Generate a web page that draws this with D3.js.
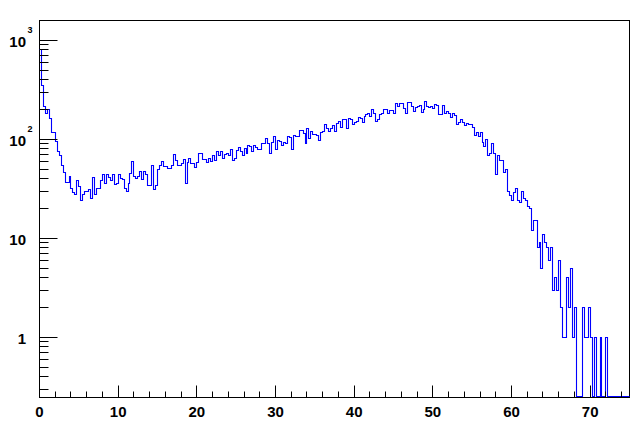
<!DOCTYPE html>
<html><head><meta charset="utf-8">
<script src="https://cdn.jsdelivr.net/npm/d3@7"></script>
<style>body{margin:0;background:#fff}svg{display:block}</style>
</head><body><svg id="c" width="644" height="424"></svg>
<script>
// Histogram range and bin contents (300 bins of width 0.25)
const xMin = 0, xMax = 75;
const counts = [
811,350,213,183,198,163,117,117,95,75,
68,55,46,37,37,42,32,29,28,38,
33,24,28,30,30,31,25,41,28,32,
32,38,44,36,44,41,38,44,35,36,
44,40,39,32,30,36,45,59,42,40,
42,47,39,47,44,34,34,55,31,34,
50,55,60,53,53,51,51,54,70,61,
54,54,57,63,36,58,64,57,57,52,
58,72,72,63,62,58,64,59,69,61,
75,69,75,64,71,72,69,78,61,64,
77,83,76,68,80,72,87,84,75,87,
83,78,78,90,90,102,90,72,92,106,
78,98,94,86,93,90,106,104,79,108,
106,106,123,123,115,90,128,102,120,113,
113,110,98,117,119,142,129,119,129,139,
120,145,151,132,159,159,129,161,157,142,
149,152,166,161,149,169,178,181,169,198,
181,153,157,176,183,200,200,183,194,194,
183,231,215,231,231,205,183,235,235,215,
190,210,214,222,186,200,240,214,211,214,
205,227,222,176,176,222,181,190,181,166,
181,172,140,148,157,148,138,143,141,141,
132,110,117,106,118,92,85,99,68,72,
90,72,44,68,61,61,46,50,30,27,
24,29,32,24,23,30,25,24,21,20,
12,15,15,8,9,5,11,9,8,6,
8,3,4,3,6,2,1,1,4,2,
5,1,2,0,0,0,2,1,1,2,
1,0,1,0,0,1,0,0,1,0,
0,0,0,0,0,0,0,0,0,0
];
const xTickMajor = [0,10,20,30,40,50,60,70];
const xTickMinorStep = 2;
const yTickMajor = [1,10,100,1000];
const yTickBase = ["1","10","10","10"];
const yTickExp = ["","","2","3"];
const yMin = 0.2466, yMax = 1585;

const svg = d3.select("#c");
const L = 39.5, R = 629.5, T = 20.5, B = 397.5;
const x = d3.scaleLinear().domain([xMin, xMax]).range([L, R]);
const y = d3.scaleLog().domain([yMin, yMax]).range([B, T]);
const font = "'Liberation Sans', Arial, Helvetica, sans-serif";

// frame
svg.append("rect").attr("x", L).attr("y", T).attr("width", R - L).attr("height", B - T)
  .attr("fill", "none").attr("stroke", "#000").attr("stroke-width", 1);

// histogram
const bw = (xMax - xMin) / counts.length;
const pts = counts.map((c, i) => [xMin + i * bw, Math.max(c, yMin)]);
pts.push([xMax, Math.max(counts[counts.length - 1], yMin)]);
const line = d3.line()
  .x(d => Math.round(x(d[0]) - 0.5) + 0.5)
  .y(d => Math.round(Math.min(y(d[1]), B - 1) - 0.5) + 0.5)
  .curve(d3.curveStepAfter);
svg.append("path").attr("d", line(pts)).attr("fill", "none")
  .attr("stroke", "#0000ff").attr("stroke-width", 1.1);

// x ticks
const g = svg.append("g").attr("stroke", "#000").attr("stroke-width", 1);
for (let v = xMin; v <= xMax + 1e-9; v += xTickMinorStep) {
  const major = xTickMajor.includes(v);
  let px = Math.round(x(v) - 0.5) + 0.5;
  if (px > R) px = R;
  g.append("line").attr("x1", px).attr("x2", px).attr("y1", B).attr("y2", B - (major ? 12 : 6));
}
xTickMajor.forEach(v => {
  svg.append("text").attr("x", x(v)).attr("y", 417).attr("text-anchor", "middle")
    .attr("font-family", font).attr("font-weight", "bold").attr("font-size", 15).text(v);
});

// y ticks (log)
for (let k = -1; k <= 3; k++) {
  for (let m = 1; m <= 9; m++) {
    const v = m * Math.pow(10, k);
    if (v < yMin || v > yMax) continue;
    const py = Math.round(y(v) - 0.5) + 0.5;
    g.append("line").attr("x1", L).attr("x2", L + (m === 1 ? 18 : 9)).attr("y1", py).attr("y2", py);
  }
}
yTickMajor.forEach((v, i) => {
  const py = y(v);
  svg.append("text").attr("x", 26).attr("y", py + 7).attr("text-anchor", "end")
    .attr("font-family", font).attr("font-weight", "bold").attr("font-size", 15).text(yTickBase[i]);
  if (yTickExp[i]) {
    svg.append("text").attr("x", 27.5).attr("y", py - 7).attr("text-anchor", "start")
      .attr("font-family", font).attr("font-weight", "bold").attr("font-size", 9).text(yTickExp[i]);
  }
});
</script>
</body></html>
